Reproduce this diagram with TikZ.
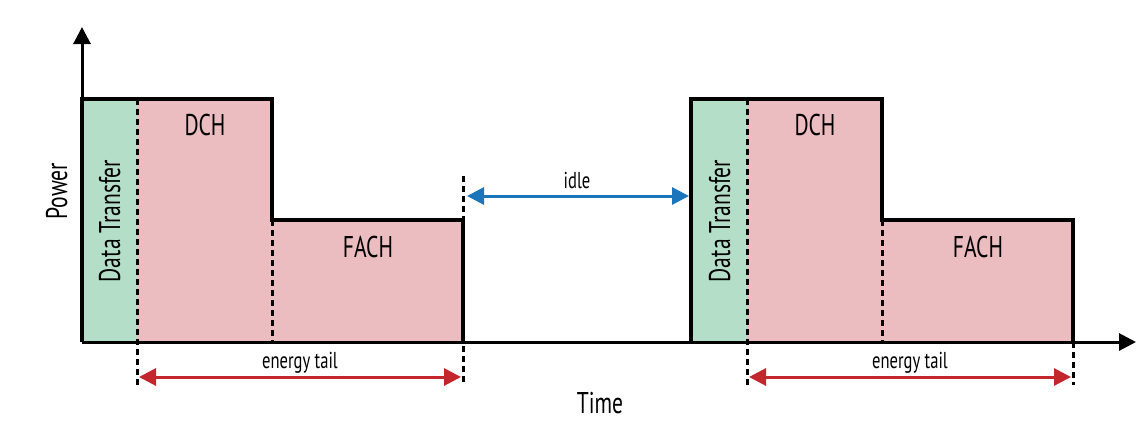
\documentclass[tikz,border=0pt]{standalone}
\usepackage{fontspec}
\setmainfont{PT Sans}[FakeStretch=0.72]
\usetikzlibrary{arrows.meta}
\definecolor{transfergreen}{RGB}{180,222,200}
\definecolor{tailpink}{RGB}{236,189,192}
\definecolor{idleblue}{RGB}{27,117,187}
\definecolor{tailred}{RGB}{196,38,46}
\tikzset{
	bigtip/.tip={Triangle[length=17pt,width=17pt]},
	axisline/.style={line width=3pt, -bigtip},
	outline/.style={line width=3.2pt, line join=miter},
	cut/.style={line width=3pt, dash pattern=on 6pt off 4pt},
	spanarrow/.style={line width=3pt, bigtip-bigtip},
	statetext/.style={font=\fontsize{30}{36}\selectfont, inner sep=0pt, anchor=base},
	spantext/.style={font=\fontsize{23}{28}\selectfont, inner sep=0pt, anchor=base},
}
\begin{document}
\begin{tikzpicture}[x=1pt, y=-1pt]
		\useasboundingbox (0,0) rectangle (1136,424);
		% first burst
		\fill[transfergreen] (82,99) rectangle (137,342);
		\fill[tailpink] (137,99) rectangle (272,342);
		\fill[tailpink] (272,220) rectangle (463,342);
		% second burst
		\fill[transfergreen] (691,99) rectangle (747,342);
		\fill[tailpink] (747,99) rectangle (882,342);
		\fill[tailpink] (882,220) rectangle (1073,342);

		\draw[cut] (137,99) -- (137,385);
		\draw[cut] (272,220) -- (272,342);
		\draw[cut] (463,176) -- (463,385);
		\draw[cut] (747,99) -- (747,385);
		\draw[cut] (882,220) -- (882,342);
		\draw[cut] (1073,342) -- (1073,385);

		\draw[outline] (82,342) -- (82,99) -- (272,99) -- (272,220) -- (463,220) -- (463,342);
		\draw[outline] (691,342) -- (691,99) -- (882,99) -- (882,220) -- (1073,220) -- (1073,342);

		% axes
		\coordinate (origin) at (82,342);
		\coordinate (ytop) at (82,27);
		\coordinate (xend) at (1136,342);
		\draw[axisline] (origin) -- (ytop);
		\draw[axisline] (origin) -- (xend);

		\node[statetext, rotate=90] (power) at (67,191) {Power};
		\node[statetext] (time) at (600,413) {Time};

		\node[statetext, rotate=90] (transfer1) at (120,221) {Data Transfer};
		\node[statetext] (dch1) at (205,135) {DCH};
		\node[statetext] (fach1) at (368,257) {FACH};
		\node[statetext, rotate=90] (transfer2) at (730,221) {Data Transfer};
		\node[statetext] (dch2) at (815,135) {DCH};
		\node[statetext] (fach2) at (978,257) {FACH};

		% idle gap
		\coordinate (idleA) at (467,196);
		\coordinate (idleB) at (689,196);
		\draw[spanarrow, idleblue] (idleA) -- (idleB);
		\node[spantext] (idle) at (577,188) {idle};

		% tails
		\coordinate (tail1A) at (139,377);
		\coordinate (tail1B) at (461,377);
		\coordinate (tail2A) at (749,377);
		\coordinate (tail2B) at (1071,377);
		\draw[spanarrow, tailred] (tail1A) -- (tail1B);
		\draw[spanarrow, tailred] (tail2A) -- (tail2B);
		\node[spantext] (tail1) at (300,368) {energy tail};
		\node[spantext] (tail2) at (910,368) {energy tail};
	\end{tikzpicture}
\end{document}
